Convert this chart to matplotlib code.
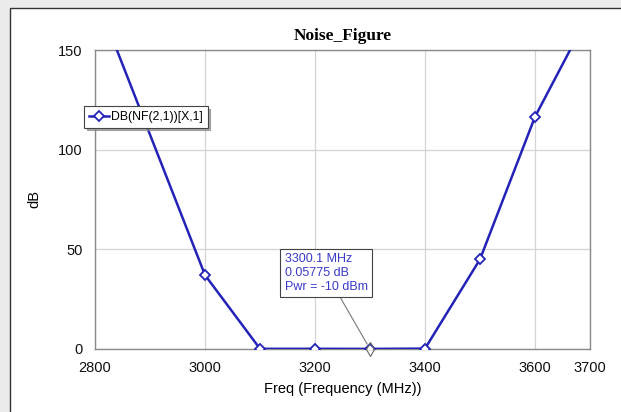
import numpy as np
import matplotlib.pyplot as plt
from matplotlib.patches import Rectangle

# data
freq = [2800, 3000, 3100, 3200, 3300, 3400, 3500, 3600, 3700]
nf_db = [178, 37.1, 0.1, 0.1, 0.06, 0.2, 45, 116.5, 169]
marker_freq = [3000, 3100, 3200, 3300, 3400, 3500, 3600]
marker_db = [37.1, 0.1, 0.1, 0.06, 0.2, 45, 116.5]

xticks = [2800, 3000, 3200, 3400, 3600, 3700]
yticks = [0, 50, 100, 150]

blue = '#2323b8'

fig = plt.figure(figsize=(6.21, 4.12), dpi=100)
fig.patch.set_facecolor('#ececec')
# white panel with a dark frame on top/left
fig.patches.append(Rectangle((10/621, -0.05), 1.0, 1.05 - 8/412, transform=fig.transFigure,
                             facecolor='white', edgecolor='#333333', lw=1.0, zorder=-5))

ax = fig.add_axes([95/621, 1 - 349/412, 495/621, 299/412])
ax.plot(freq, nf_db, color=blue, lw=1.8, zorder=3, clip_on=True)
ax.plot(marker_freq, marker_db, ls='none', marker='D', ms=5, mfc='white',
        mec=blue, mew=1.3, zorder=4)

ax.set_xlim(2800, 3700)
ax.set_ylim(0, 150)
ax.set_xticks(xticks)
ax.set_yticks(yticks)
ax.tick_params(length=0, labelsize=10.5, pad=9, labelcolor='#111111')
ax.tick_params(axis='x', pad=9)
for lbl in ax.get_xticklabels() + ax.get_yticklabels():
    lbl.set_family('Liberation Sans')
ax.grid(True, color='#d4d4d4', lw=0.9)
for s in ax.spines.values():
    s.set_color('#8a8a8a')
    s.set_linewidth(1.0)

ax.set_title('Noise_Figure', family='Liberation Serif', fontweight='bold',
             fontsize=12.5, pad=7)
ax.set_xlabel('Freq (Frequency (MHz))', family='Liberation Sans', fontsize=10.5, labelpad=5)
ax.set_ylabel('dB', family='Liberation Sans', fontsize=10.5, labelpad=12)

# legend box
leg = ax.legend([plt.Line2D([], [], color=blue, lw=1.8, marker='D', ms=5,
                            mfc='white', mec=blue, mew=1.3)],
                ['DB(NF(2,1))[X,1]'], loc='upper left',
                bbox_to_anchor=(-0.022, 0.813), frameon=True, fancybox=False,
                shadow={'color': '#888888', 'alpha': 0.7}, handlelength=1.6,
                handletextpad=0.2, borderpad=0.4, borderaxespad=0,
                prop={'family': 'Liberation Sans', 'size': 8.8})
leg.get_frame().set_edgecolor('#444444')
leg.get_frame().set_linewidth(0.8)

# marker readout
ax.annotate('3300.1 MHz\n0.05775 dB\nPwr = -10 dBm', xy=(3300, 0), xycoords='data',
            xytext=(3145, 48), textcoords='data', color='#3a3ac8', fontsize=9,
            family='Liberation Sans', linespacing=1.2, va='top', ha='left',
            bbox=dict(boxstyle='square,pad=0.35', fc='white', ec='#444444', lw=0.8),
            arrowprops=dict(arrowstyle='-', color='#777777', lw=0.8,
                            shrinkA=0, shrinkB=4), zorder=6)
ax.plot([3300], [0], ls='none', marker='d', ms=7, mfc='none', mec='#666666',
        mew=0.8, zorder=5, clip_on=False)

fig.savefig('out.png', dpi=100)
